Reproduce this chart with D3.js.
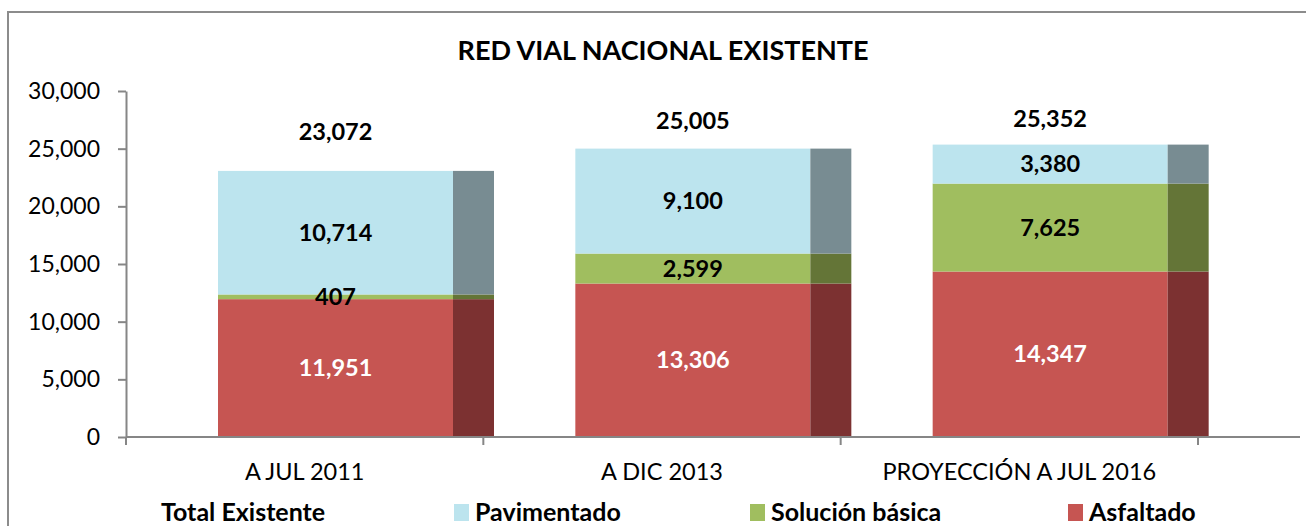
<!DOCTYPE html>
<html>
<head>
<meta charset="utf-8">
<script src="https://cdn.jsdelivr.net/npm/d3@7"></script>
<style>
  html, body { margin: 0; padding: 0; background: #fff; }
  svg { display: block; font-family: Lato, "Open Sans", sans-serif; }
</style>
</head>
<body>
<div id="chart"></div>
<script>
// data
const categories = ["A JUL 2011", "A DIC 2013", "PROYECCIÓN A JUL 2016"];
const asfaltado = [11951, 13306, 14347];
const solucionBasica = [407, 2599, 7625];
const pavimentado = [10714, 9100, 3380];
const totalExistente = [23072, 25005, 25352];
const yTicks = [0, 5000, 10000, 15000, 20000, 25000, 30000];

const width = 1306, height = 526;
const formatNumber = d3.format(",d");

const series = [
  { key: "asfaltado", name: "Asfaltado", values: asfaltado, fill: "#c65552", side: "#7c3131", text: "#fff" },
  { key: "solucion", name: "Solución básica", values: solucionBasica, fill: "#a0be5f", side: "#647537", text: "#000" },
  { key: "pavimentado", name: "Pavimentado", values: pavimentado, fill: "#bce4ee", side: "#788c92", text: "#000" }
];

const table = categories.map((c, i) => {
  const row = { category: c };
  series.forEach(s => row[s.key] = s.values[i]);
  return row;
});

const stacked = d3.stack().keys(series.map(s => s.key))(table);

const svg = d3.select("#chart").append("svg")
  .attr("width", width)
  .attr("height", height)
  .attr("viewBox", [0, 0, width, height]);

// chart area frame
svg.append("rect")
  .attr("x", 8).attr("y", 12)
  .attr("width", 1320).attr("height", 540)
  .attr("fill", "#fff")
  .attr("stroke", "#8c8c8c")
  .attr("stroke-width", 2);

const x = d3.scaleBand().domain(categories).range([126, 1198]).paddingInner(0).paddingOuter(0);
const y = d3.scaleLinear().domain([0, 30000]).range([437, 91]);

// bar geometry inside each band (the chart draws the bar with a darker depth strip)
const frontOffset = 92, frontWidth = 235, sideWidth = 41;

svg.append("text")
  .attr("x", 663)
  .attr("y", 51)
  .attr("dy", "0.35em")
  .attr("text-anchor", "middle")
  .attr("font-weight", "bold")
  .attr("font-size", 27)
  .text("RED VIAL NACIONAL EXISTENTE");

// bars
const layers = svg.append("g").selectAll("g")
  .data(stacked)
  .join("g");

layers.each(function(layer, li) {
  const s = series[li];
  const g = d3.select(this);
  g.selectAll("rect.front")
    .data(layer)
    .join("rect")
    .attr("class", "front")
    .attr("x", d => x(d.data.category) + frontOffset)
    .attr("width", frontWidth)
    .attr("y", d => y(d[1]))
    .attr("height", d => y(d[0]) - y(d[1]))
    .attr("fill", s.fill);
  g.selectAll("rect.side")
    .data(layer)
    .join("rect")
    .attr("class", "side")
    .attr("x", d => x(d.data.category) + frontOffset + frontWidth)
    .attr("width", sideWidth)
    .attr("y", d => y(d[1]))
    .attr("height", d => y(d[0]) - y(d[1]))
    .attr("fill", s.side);
});

// segment labels, drawn after all bars so thin segments stay readable
const labelLayers = svg.append("g").selectAll("g")
  .data(stacked)
  .join("g");

labelLayers.each(function(layer, li) {
  const s = series[li];
  d3.select(this).selectAll("text")
    .data(layer)
    .join("text")
    .attr("x", d => x(d.data.category) + frontOffset + frontWidth / 2)
    .attr("y", d => (y(d[0]) + y(d[1])) / 2)
    .attr("dy", "0.35em")
    .attr("text-anchor", "middle")
    .attr("font-weight", "bold")
    .attr("font-size", 23.5)
    .attr("fill", s.text)
    .text(d => formatNumber(d[1] - d[0]));
});

// total labels (placed by hand above each bar in the original)
const totalLift = [39.5, 27.5, 25.5];
svg.append("g").selectAll("text")
  .data(totalExistente)
  .join("text")
  .attr("x", (d, i) => x(categories[i]) + frontOffset + frontWidth / 2)
  .attr("y", (d, i) => y(d) - totalLift[i])
  .attr("dy", "0.35em")
  .attr("text-anchor", "middle")
  .attr("font-weight", "bold")
  .attr("font-size", 23.5)
  .text(d => formatNumber(d));

// y axis
const yAxis = svg.append("g")
  .attr("transform", "translate(126,0)")
  .call(d3.axisLeft(y).tickValues(yTicks).tickFormat(formatNumber).tickSize(8).tickSizeOuter(0).tickPadding(18));
yAxis.selectAll("line, path").attr("stroke", "#868686").attr("stroke-width", 2);
yAxis.selectAll("text").attr("font-size", 23).attr("fill", "#000").attr("font-family", "Lato, sans-serif");

// x axis
const xAxisG = svg.append("g").attr("transform", "translate(0,437)");
xAxisG.append("line")
  .attr("x1", 126).attr("x2", 1300)
  .attr("stroke", "#868686").attr("stroke-width", 2);
xAxisG.selectAll("line.tick")
  .data(categories.concat([null]))
  .join("line")
  .attr("class", "tick")
  .attr("x1", d => d === null ? x.range()[1] : x(d))
  .attr("x2", d => d === null ? x.range()[1] : x(d))
  .attr("y1", 0).attr("y2", 8)
  .attr("stroke", "#868686").attr("stroke-width", 2);
xAxisG.selectAll("text")
  .data(categories)
  .join("text")
  .attr("x", d => x(d) + x.bandwidth() / 2)
  .attr("y", 35)
  .attr("dy", "0.35em")
  .attr("text-anchor", "middle")
  .attr("font-size", 23.5)
  .text(d => d);

// legend
const legendItems = [
  { name: "Total Existente", fill: null, x: 140 },
  { name: "Pavimentado", fill: series[2].fill, x: 454 },
  { name: "Solución básica", fill: series[1].fill, x: 750 },
  { name: "Asfaltado", fill: series[0].fill, x: 1068 }
];
const legend = svg.append("g").selectAll("g")
  .data(legendItems)
  .join("g")
  .attr("transform", d => `translate(${d.x},512)`);
legend.filter(d => d.fill)
  .append("rect")
  .attr("x", 0).attr("y", -8)
  .attr("width", 15).attr("height", 17)
  .attr("fill", d => d.fill);
legend.append("text")
  .attr("x", 21)
  .attr("dy", "0.35em")
  .attr("font-weight", "bold")
  .attr("font-size", 25)
  .text(d => d.name);
</script>
</body>
</html>
